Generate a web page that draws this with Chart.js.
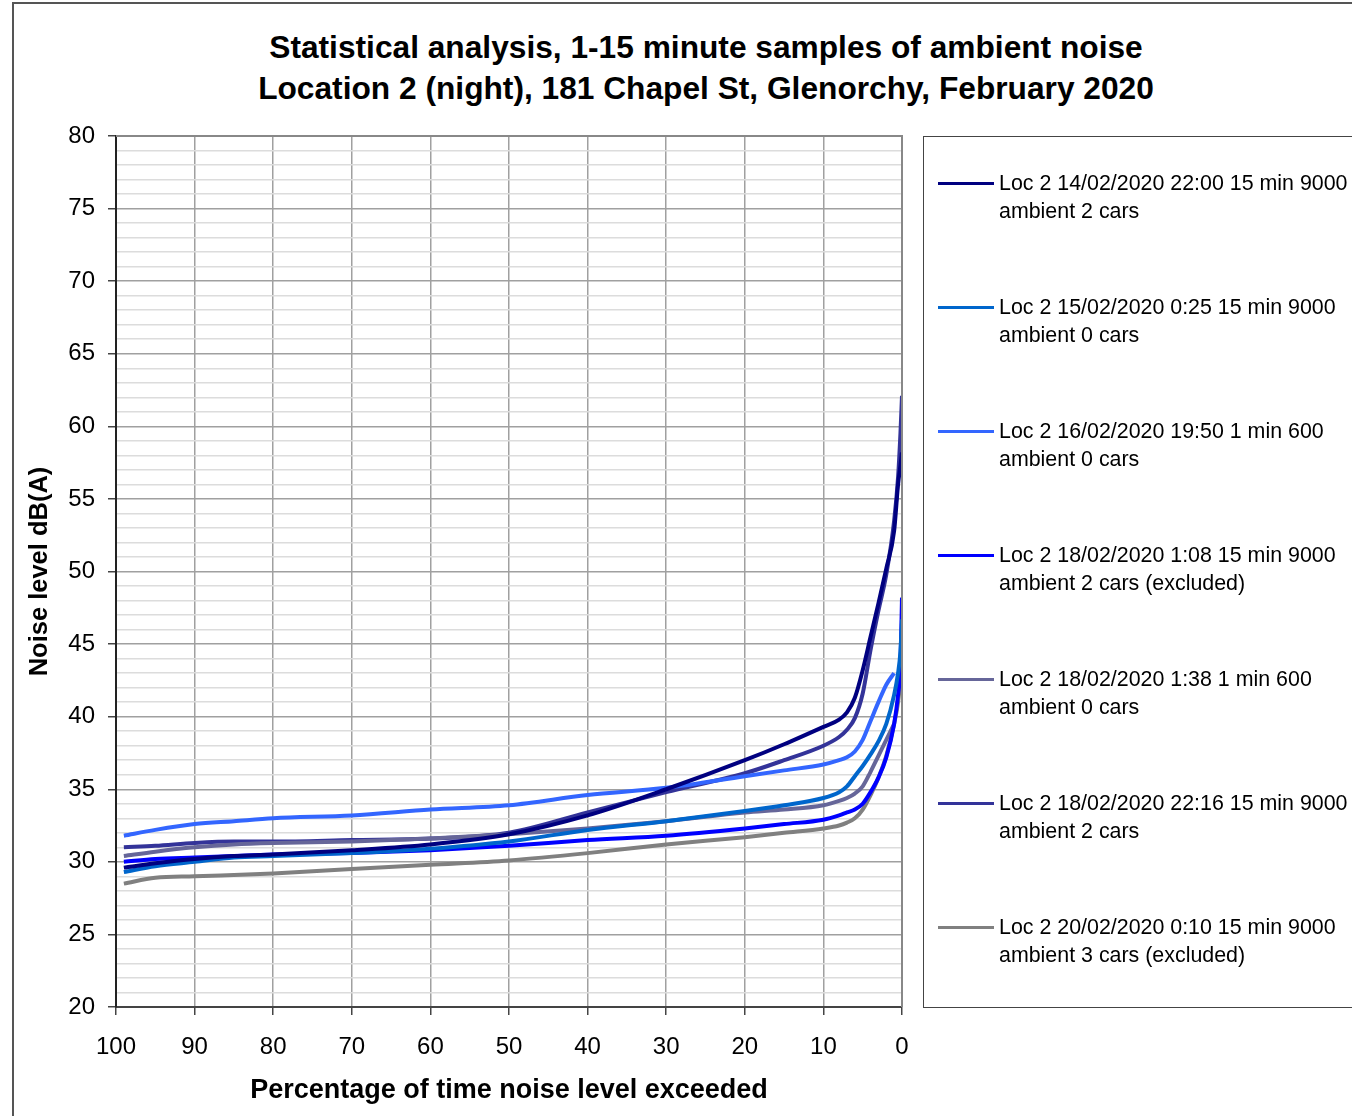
<!DOCTYPE html>
<html>
<head>
<meta charset="utf-8">
<script src="https://cdn.jsdelivr.net/npm/chart.js@4.4.1/dist/chart.umd.min.js"></script>
<style>
  html, body { margin:0; padding:0; background:#fff; }
  body { width:1352px; height:1116px; position:relative; overflow:hidden; font-family:"Liberation Sans", Arial, sans-serif; }
  #frame { position:absolute; left:12px; top:2px; width:1500px; height:1300px; border-top:2px solid #555; border-left:2px solid #555; }
  #title { position:absolute; left:106px; width:1200px; top:27px; text-align:center; font-weight:bold; font-size:31.7px; line-height:41px; color:#000; }
  #chartWrap { position:absolute; left:0; top:0; width:1352px; height:1116px; }
  #legend { position:absolute; left:923px; top:136px; width:500px; height:870px; border:1px solid #444; border-right:none; }
  .swatch { position:absolute; left:14px; width:56px; height:3px; }
  .label { position:absolute; left:75px; font-size:21.4px; line-height:28px; white-space:nowrap; color:#000; }
</style>
</head>
<body>
<div id="frame"></div>
<div id="title">Statistical analysis, 1-15 minute samples of ambient noise<br>Location 2 (night), 181 Chapel St, Glenorchy, February 2020</div>
<div id="chartWrap"><canvas id="noiseChart" width="1352" height="1116"></canvas></div>
<div id="legend"></div>
<script>
// Percentage of time level exceeded (x)
const exceedPct = [99, 95, 90, 85, 80, 70, 60, 50, 40, 30, 20, 15, 10, 8, 7, 6, 5, 4, 3, 2, 1, 0.5, 0.2, 0];

// Noise levels dB(A), one array per sample
const loc14_2200 = [29.6, 29.9, 30.2, 30.4, 30.5, 30.8, 31.2, 31.9, 33.2, 35.0, 37.0, 38.1, 39.3, 39.8, 40.3, 41.3, 43.2, 45.5, 47.8, 50.2, 52.8, 56.0, 57.3, 58.2];
const loc15_0025 = [29.3, 29.7, 30.0, 30.3, 30.4, 30.6, 30.9, 31.4, 32.2, 32.8, 33.5, 33.9, 34.4, 34.8, 35.2, 35.9, 36.6, 37.4, 38.3, 39.5, 41.5, 43.0, 44.5, 46.7];
const loc16_1950 = [31.8, 32.2, 32.6, 32.8, 33.0, 33.2, 33.6, 33.9, 34.6, 35.1, 35.9, 36.3, 36.7, 37.0, 37.2, 37.6, 38.4, 39.7, 41.0, 42.2, 43.0, null, null, null];
const loc18_0108 = [30.0, 30.2, 30.3, 30.4, 30.5, 30.6, 30.8, 31.1, 31.5, 31.8, 32.3, 32.6, 32.9, 33.2, 33.4, 33.6, 34.0, 34.8, 35.8, 37.2, 39.5, 41.5, 43.5, 48.2];
const loc18_0138 = [30.4, 30.7, 31.0, 31.2, 31.3, 31.4, 31.6, 31.9, 32.3, 32.8, 33.4, 33.6, 33.9, 34.2, 34.4, 34.7, 35.2, 36.2, 37.3, 38.4, 39.5, null, null, null];
const loc18_2216 = [31.0, 31.1, 31.3, 31.4, 31.4, 31.5, 31.6, 32.0, 33.4, 34.8, 36.1, 37.0, 38.0, 38.6, 39.1, 39.9, 41.6, 44.6, 47.3, 49.8, 53.5, 56.5, 59.5, 62.1];
const loc20_0010 = [28.5, 28.9, 29.0, 29.1, 29.2, 29.5, 29.8, 30.1, 30.6, 31.2, 31.7, 32.0, 32.3, 32.5, 32.7, 33.0, 33.6, 34.6, 35.8, 37.3, 39.5, 41.0, 42.5, 44.0];

const seriesLabels = [
  ["Loc 2 14/02/2020 22:00 15 min 9000", "ambient 2 cars"],
  ["Loc 2 15/02/2020 0:25 15 min 9000", "ambient 0 cars"],
  ["Loc 2 16/02/2020 19:50 1 min 600", "ambient 0 cars"],
  ["Loc 2 18/02/2020 1:08 15 min 9000", "ambient 2 cars (excluded)"],
  ["Loc 2 18/02/2020 1:38 1 min 600", "ambient 0 cars"],
  ["Loc 2 18/02/2020 22:16 15 min 9000", "ambient 2 cars"],
  ["Loc 2 20/02/2020 0:10 15 min 9000", "ambient 3 cars (excluded)"]
];
const seriesValues = [loc14_2200, loc15_0025, loc16_1950, loc18_0108, loc18_0138, loc18_2216, loc20_0010];
const seriesColors = ["#000080", "#0066CC", "#3366FF", "#0000FF", "#666699", "#333399", "#808080"];

const toPoints = vals => exceedPct.map((x, i) => ({x: x, y: vals[i]})).filter(p => p.y !== null);

const datasets = seriesValues.map((vals, i) => ({
  label: seriesLabels[i].join(" "),
  data: toPoints(vals),
  borderColor: seriesColors[i],
  backgroundColor: seriesColors[i],
  borderWidth: 4,
  pointRadius: 0,
  cubicInterpolationMode: 'monotone',
  fill: false
}));

const fam = "'Liberation Sans', Arial, sans-serif";
const tickFont = {family: fam, size: 24};

const chart = new Chart(document.getElementById("noiseChart"), {
  type: 'line',
  data: {datasets: datasets},
  options: {
    responsive: false,
    animation: false,
    layout: {padding: {left: 21, top: 136, right: 450, bottom: 5}},
    plugins: {legend: {display: false}, tooltip: {enabled: false}},
    scales: {
      x: {
        type: 'linear', reverse: true, min: 0, max: 100,
        ticks: {stepSize: 10, color: '#000', font: tickFont, padding: 18, maxRotation: 0},
        grid: {color: '#a0a0a0', lineWidth: 1.5, tickLength: 8, tickColor: '#444'},
        border: {color: '#444', width: 2},
        title: {display: true, text: 'Percentage of time noise level exceeded', color: '#000', font: {family: fam, size: 27, weight: 'bold'}},
        afterFit: s => { s.height = 104; }
      },
      y: {
        min: 20, max: 80,
        ticks: {
          stepSize: 1, color: '#000', font: tickFont, padding: 13, autoSkip: false,
          callback: v => (v % 5 === 0 ? v : '')
        },
        grid: {
          color: c => (c.tick && c.tick.value % 5 === 0 ? '#a0a0a0' : '#dcdcdc'),
          lineWidth: 1.5,
          tickLength: 8,
          tickColor: c => (c.tick && c.tick.value % 5 === 0 ? '#444' : 'rgba(0,0,0,0)')
        },
        border: {color: '#222', width: 2},
        title: {display: true, text: 'Noise level dB(A)', color: '#000', font: {family: fam, size: 25.5, weight: 'bold'}},
        afterFit: s => { s.width = 95; }
      }
    }
  },
  plugins: [{
    id: 'plotFrame',
    afterDraw(c) {
      const a = c.chartArea, ctx = c.ctx;
      ctx.save();
      ctx.strokeStyle = '#888';
      ctx.lineWidth = 2;
      ctx.beginPath();
      ctx.moveTo(a.left, a.top); ctx.lineTo(a.right, a.top); ctx.lineTo(a.right, a.bottom);
      ctx.stroke();
      ctx.restore();
    }
  }]
});

// Legend built from the chart's datasets
const legendBox = document.getElementById("legend");
chart.data.datasets.forEach((ds, i) => {
  const top = 46 + i * 124;
  const sw = document.createElement("div");
  sw.className = "swatch";
  sw.style.top = (top - 1.5) + "px";
  sw.style.background = ds.borderColor;
  legendBox.appendChild(sw);
  const lab = document.createElement("div");
  lab.className = "label";
  lab.style.top = (top - 14) + "px";
  lab.innerHTML = seriesLabels[i][0] + "<br>" + seriesLabels[i][1];
  legendBox.appendChild(lab);
});
</script>
</body>
</html>
